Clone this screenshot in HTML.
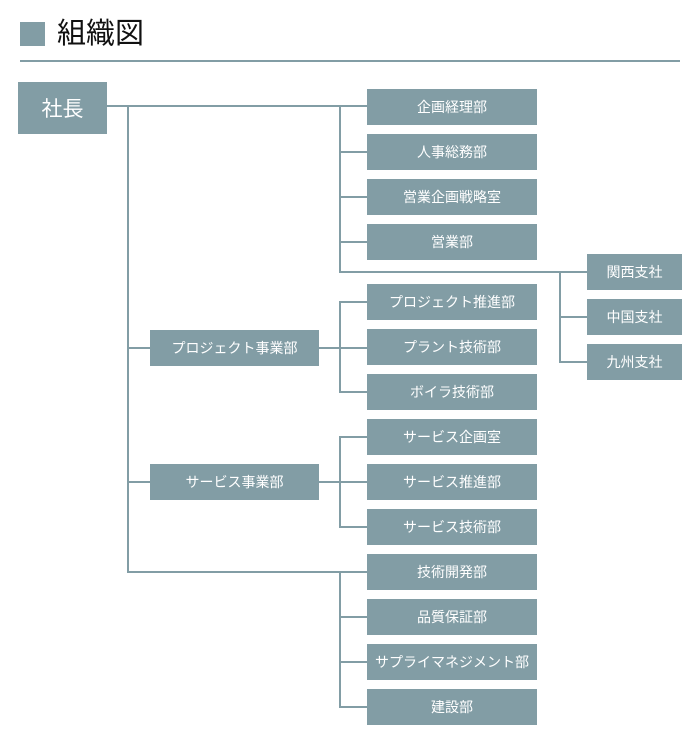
<!DOCTYPE html>
<html><head><meta charset="utf-8"><style>
body{margin:0;width:700px;height:742px;background:#fff;position:relative;overflow:hidden;font-family:"Liberation Sans","Noto Sans CJK JP",sans-serif}
.b{position:absolute;background:#829da5;color:#fff;font-size:14px;display:flex;align-items:center;justify-content:center;white-space:nowrap}
.r{left:367px;width:170px;height:36px}
.s{left:587px;width:95px;height:36px}
.m{left:150px;width:169px;height:36px}
.l{position:absolute;background:#829da5}
</style></head><body>
<div style="position:absolute;left:20px;top:22px;width:25px;height:24px;background:#829da5"></div>
<div style="position:absolute;left:57px;top:15px;font-size:29px;color:#111;line-height:38px">組織図</div>
<div class="l" style="left:20px;top:60px;width:660px;height:2px"></div>
<div class="b" style="left:18px;top:82px;width:89px;height:52px;font-size:21px">社長</div>
<div class="l" style="left:107px;top:105px;width:260px;height:2px"></div>
<div class="l" style="left:127px;top:105px;width:2px;height:468px"></div>
<div class="l" style="left:339px;top:105px;width:2px;height:168px"></div>
<div class="l" style="left:339px;top:151px;width:28px;height:2px"></div>
<div class="l" style="left:339px;top:196px;width:28px;height:2px"></div>
<div class="l" style="left:339px;top:241px;width:28px;height:2px"></div>
<div class="l" style="left:339px;top:271px;width:248px;height:2px"></div>
<div class="l" style="left:559px;top:271px;width:2px;height:92px"></div>
<div class="l" style="left:559px;top:316px;width:28px;height:2px"></div>
<div class="l" style="left:559px;top:361px;width:28px;height:2px"></div>
<div class="l" style="left:127px;top:347px;width:23px;height:2px"></div>
<div class="l" style="left:319px;top:347px;width:48px;height:2px"></div>
<div class="l" style="left:339px;top:301px;width:2px;height:92px"></div>
<div class="l" style="left:339px;top:301px;width:28px;height:2px"></div>
<div class="l" style="left:339px;top:391px;width:28px;height:2px"></div>
<div class="l" style="left:127px;top:481px;width:23px;height:2px"></div>
<div class="l" style="left:319px;top:481px;width:48px;height:2px"></div>
<div class="l" style="left:339px;top:436px;width:2px;height:92px"></div>
<div class="l" style="left:339px;top:436px;width:28px;height:2px"></div>
<div class="l" style="left:339px;top:526px;width:28px;height:2px"></div>
<div class="l" style="left:127px;top:571px;width:240px;height:2px"></div>
<div class="l" style="left:339px;top:571px;width:2px;height:137px"></div>
<div class="l" style="left:339px;top:616px;width:28px;height:2px"></div>
<div class="l" style="left:339px;top:661px;width:28px;height:2px"></div>
<div class="l" style="left:339px;top:706px;width:28px;height:2px"></div>
<div class="b r" style="top:89px">企画経理部</div>
<div class="b r" style="top:134px">人事総務部</div>
<div class="b r" style="top:179px">営業企画戦略室</div>
<div class="b r" style="top:224px">営業部</div>
<div class="b r" style="top:284px">プロジェクト推進部</div>
<div class="b r" style="top:329px">プラント技術部</div>
<div class="b r" style="top:374px">ボイラ技術部</div>
<div class="b r" style="top:419px">サービス企画室</div>
<div class="b r" style="top:464px">サービス推進部</div>
<div class="b r" style="top:509px">サービス技術部</div>
<div class="b r" style="top:554px">技術開発部</div>
<div class="b r" style="top:599px">品質保証部</div>
<div class="b r" style="top:644px">サプライマネジメント部</div>
<div class="b r" style="top:689px">建設部</div>
<div class="b s" style="top:254px">関西支社</div>
<div class="b s" style="top:299px">中国支社</div>
<div class="b s" style="top:344px">九州支社</div>
<div class="b m" style="top:330px">プロジェクト事業部</div>
<div class="b m" style="top:464px">サービス事業部</div>
</body></html>
